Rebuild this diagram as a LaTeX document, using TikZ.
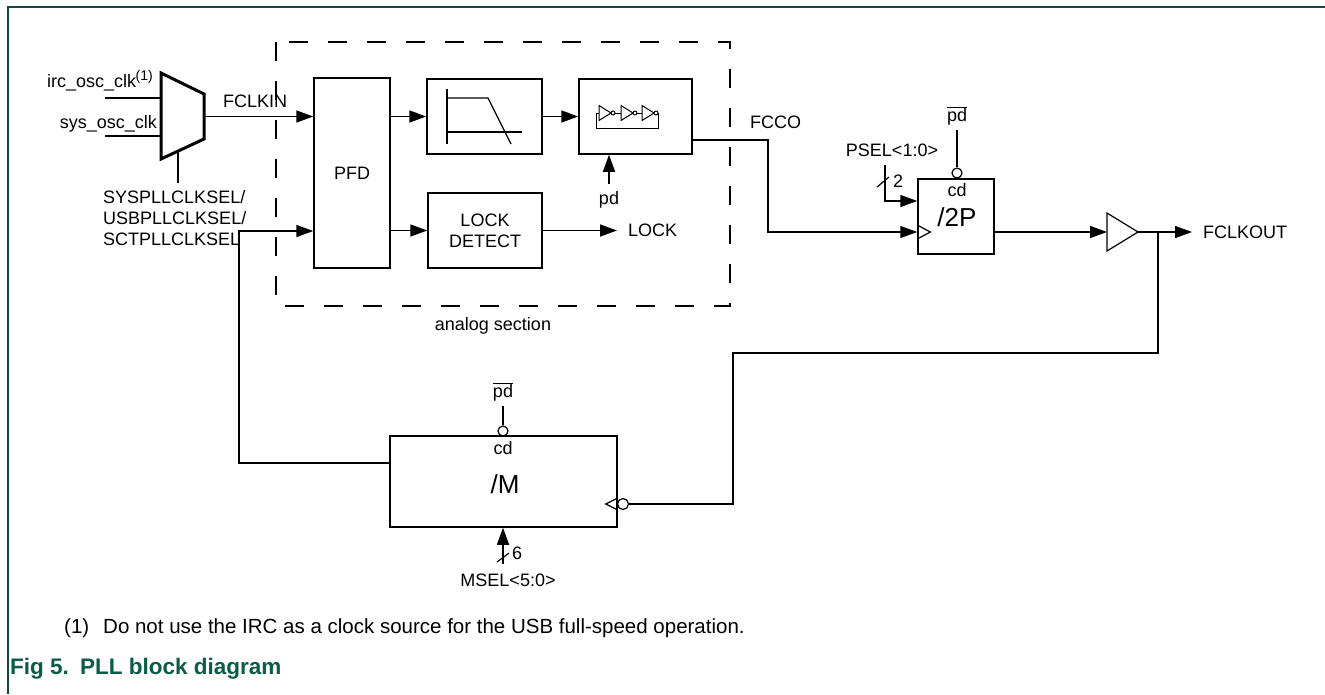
\documentclass[tikz,border=0pt]{standalone}
\usepackage{fontspec}
\setmainfont{Liberation Sans}
\usepackage{tikz}
\usetikzlibrary{arrows.meta,calc,positioning}
\definecolor{framegreen}{HTML}{17483C}
\definecolor{titlegreen}{HTML}{0B5C47}
\tikzstyle{block}=[draw,rectangle,line width=1.5pt,inner sep=0pt]
\tikzstyle{wire}=[draw,line width=1.5pt]
\tikzstyle{sig}=[draw,line width=1.5pt,-{Triangle[length=17pt,width=12pt]}]
\tikzstyle{icon}=[draw,line width=1.2pt]
\tikzstyle{bubble}=[circle,draw,line width=1.2pt,minimum size=10pt,inner sep=0pt]
\tikzstyle{biglabel}=[font=\fontsize{26}{30}\selectfont]
\tikzstyle{notetext}=[font=\fontsize{20.5}{24}\selectfont]
\tikzstyle{figtitle}=[text=titlegreen, font=\fontsize{22.5}{26}\selectfont\bfseries]

\begin{document}
\begin{tikzpicture}[x=1pt, y=-1pt, font=\fontsize{18}{21}\selectfont, inner sep=0pt]

    \useasboundingbox (0,0) rectangle (1325,694);
    \draw[framegreen, line width=2pt] (8,694) -- (8,7) -- (1325,7);

    % blocks
    \foreach \pos/\name/\w/\h/\txt in {{(352,173)/pfd/76/190/PFD}, {(484.5,116.5)/filt/115/75/},
        {(635.5,116.5)/vco/113/75/}, {(485,230.5)/lock/114/75/LOCK\\DETECT},
        {(956,216.5)/div2p/76/75/}, {(503.5,481.5)/divm/227/91/}}
        \node[block, align=center, minimum width=\w, minimum height=\h] (\name) at \pos {\txt};

    % analog section
    \draw[line width=1.5pt, dash pattern=on 19pt off 20pt] (276,42) rectangle (730,306);
    \node (analog) at (493,326) {analog section};

    % mux
    \coordinate (muxtl) at (161,73);
    \coordinate (muxtr) at (204,94);
    \coordinate (muxbr) at (204,139);
    \coordinate (muxbl) at (161,159);
    \draw[line width=3pt, line join=miter] (muxtl) -- (muxtr) -- (muxbr) -- (muxbl) -- cycle;

    \coordinate (irc) at (105,98);
    \coordinate (sys) at (105,136);
    \draw[wire] (irc) -- (irc -| muxtl);
    \draw[wire] (sys) -- (sys -| muxtl);
    \node[anchor=base east] (irclbl) at (153,87) {irc\_osc\_clk\kern-0.5pt\raisebox{7pt}{\fontsize{14}{14}\selectfont(1)}};
    \node[anchor=base east] (syslbl) at (157,128) {sys\_osc\_clk};

    \coordinate (selpt) at ($(muxbl)!0.4!(muxbr)$);
    \draw[wire] (selpt) -- ++(0,32);
    \node[anchor=north west, align=left] (sellbl) at (103,190) {SYSPLLCLKSEL/\\USBPLLCLKSEL/\\SCTPLLCLKSEL};

    % forward path
    \coordinate (muxout) at ($(muxtr)!0.5!(muxbr)$);
    \draw[sig] (muxout) -- (muxout -| pfd.west);
    \node[anchor=base west] (fclkin) at (223,107) {FCLKIN};
    \draw[sig] (pfd.east |- filt.west) -- (filt.west);
    \draw[sig] (filt.east) -- (vco.west);
    \draw[sig] (pfd.east |- lock.west) -- (lock.west);
    \node[anchor=west] (lockout) at (628,230.5) {LOCK};
    \draw[sig] (lock.east) -- ([xshift=-11pt]lockout.west);

    % filter icon
    \draw[icon] ($(filt)+(-37.5,-27.5)$) -- ($(filt)+(-37.5,27.5)$);
    \draw[icon] ($(filt)+(-37.5,-18.5)$) -- ($(filt)+(3.5,-18.5)$) -- ($(filt)+(26.5,27.5)$);
    \draw[icon] ($(filt)+(-37.5,15.5)$) -- ($(filt)+(37.5,15.5)$);

    % ring oscillator icon
    \foreach \x in {-36.5,-14.5,6.5} {
        \draw[line width=1pt] ($(vco)+(\x,-11)$) -- ($(vco)+(\x+12,-3.5)$) -- ($(vco)+(\x,4)$) -- cycle;
        \draw[line width=1pt] ($(vco)+(\x+14,-3.5)$) circle[radius=2];
    }
    \draw[line width=1pt] ($(vco)+(-21.5,-3.5)$) -- ($(vco)+(-14.5,-3.5)$);
    \draw[line width=1pt] ($(vco)+(1.5,-3.5)$) -- ($(vco)+(6.5,-3.5)$);
    \draw[line width=1pt] ($(vco)+(-36.5,-3.5)$) -- ($(vco)+(-39.5,-3.5)$) -- ($(vco)+(-39.5,11.5)$)
        -- ($(vco)+(22.5,11.5)$) -- ($(vco)+(22.5,-3.5)$);

    \node (vcopd) at (609,200) {pd};
    \draw[sig] ([yshift=7pt]vcopd.north) -- (vcopd.north |- vco.south);

    \coordinate (cc) at (768,232);
    \draw[sig] ([yshift=-23.5pt]vco.east) -| (cc) -- (cc -| div2p.west);
    \node[anchor=west] (fcco) at (750,122) {FCCO};

    % /2P divider
    \node[anchor=base] (pd2p) at (957,121.5) {$\overline{\mbox{pd}}$};
    \node[bubble] (bub2p) at (957,173) {};
    \draw[wire] ([yshift=-8.5pt]pd2p.base) -- (bub2p.north);
    \node (cd2p) at (957,190) {cd};
    \node[biglabel] (lbl2p) at (957,217) {/2P};
    \draw[icon] ($(div2p.west)+(0,8.5)$) -- ($(div2p.west)+(13,15.5)$) -- ($(div2p.west)+(0,22.5)$);

    \node (psel) at (892,150) {PSEL<1:0>};
    \coordinate (pseltop) at (885,165);
    \draw[sig] (pseltop) |- ([yshift=15.5pt]div2p.west);
    \draw[icon] ($(pseltop)+(-8,22)$) -- ($(pseltop)+(4,12)$);
    \node (psel2) at (898,181) {2};

    % output buffer
    \coordinate (bufin) at (1107,232);
    \coordinate (bufout) at (1138,232);
    \draw[icon, line join=miter] ($(bufin)+(0,-19)$) -- (bufout) -- ($(bufin)+(0,19)$) -- cycle;
    \draw[sig] (div2p.east |- bufin) -- (bufin);
    \node[anchor=west] (fclkout) at (1203,232) {FCLKOUT};
    \draw[sig] (bufout) -- ([xshift=-11pt]fclkout.west);

    % /M divider
    \node[anchor=base] (pdm) at (503,397.5) {$\overline{\mbox{pd}}$};
    \node[bubble] (bubm) at (503,431) {};
    \draw[wire] ([yshift=-8.5pt]pdm.base) -- (bubm.north);
    \node (cdm) at (503,448) {cd};
    \node[biglabel] (lblm) at (505,484) {/M};
    \draw[icon] ($(divm.east)+(0,16.5)$) -- ($(divm.east)+(-12,22.5)$) -- ($(divm.east)+(0,28.5)$);
    \node[bubble, minimum size=11pt] (mbub) at (623,504) {};

    \coordinate (mseltail) at (503,564);
    \draw[sig] (mseltail) -- (mseltail |- divm.south);
    \draw[icon] ($(mseltail)+(-6,-2)$) -- ($(mseltail)+(6,-11)$);
    \node (msel6) at (517,553) {6};
    \node (msel) at (508,580) {MSEL<5:0>};

    % feedback
    \coordinate (tap) at (1158,232);
    \coordinate (fbturn) at (733,353);
    \draw[wire] (tap) |- (fbturn) |- (mbub.east);

    \coordinate (fbl) at (239,463);
    \coordinate (fbu) at (239,231);
    \draw[sig] (fbl -| divm.west) -- (fbl) -- (fbu) -- (fbu -| pfd.west);

    % notes
    \node[notetext, anchor=west] (note1) at (64,628) {(1)};
    \node[notetext, anchor=west] (note) at (103,628) {Do not use the IRC as a clock source for the USB full-speed operation.};
    \node[figtitle, anchor=west] (fig) at (10,669) {Fig 5.};
    \node[figtitle, anchor=west] (title) at (80,669) {PLL block diagram};

\end{tikzpicture}
\end{document}
